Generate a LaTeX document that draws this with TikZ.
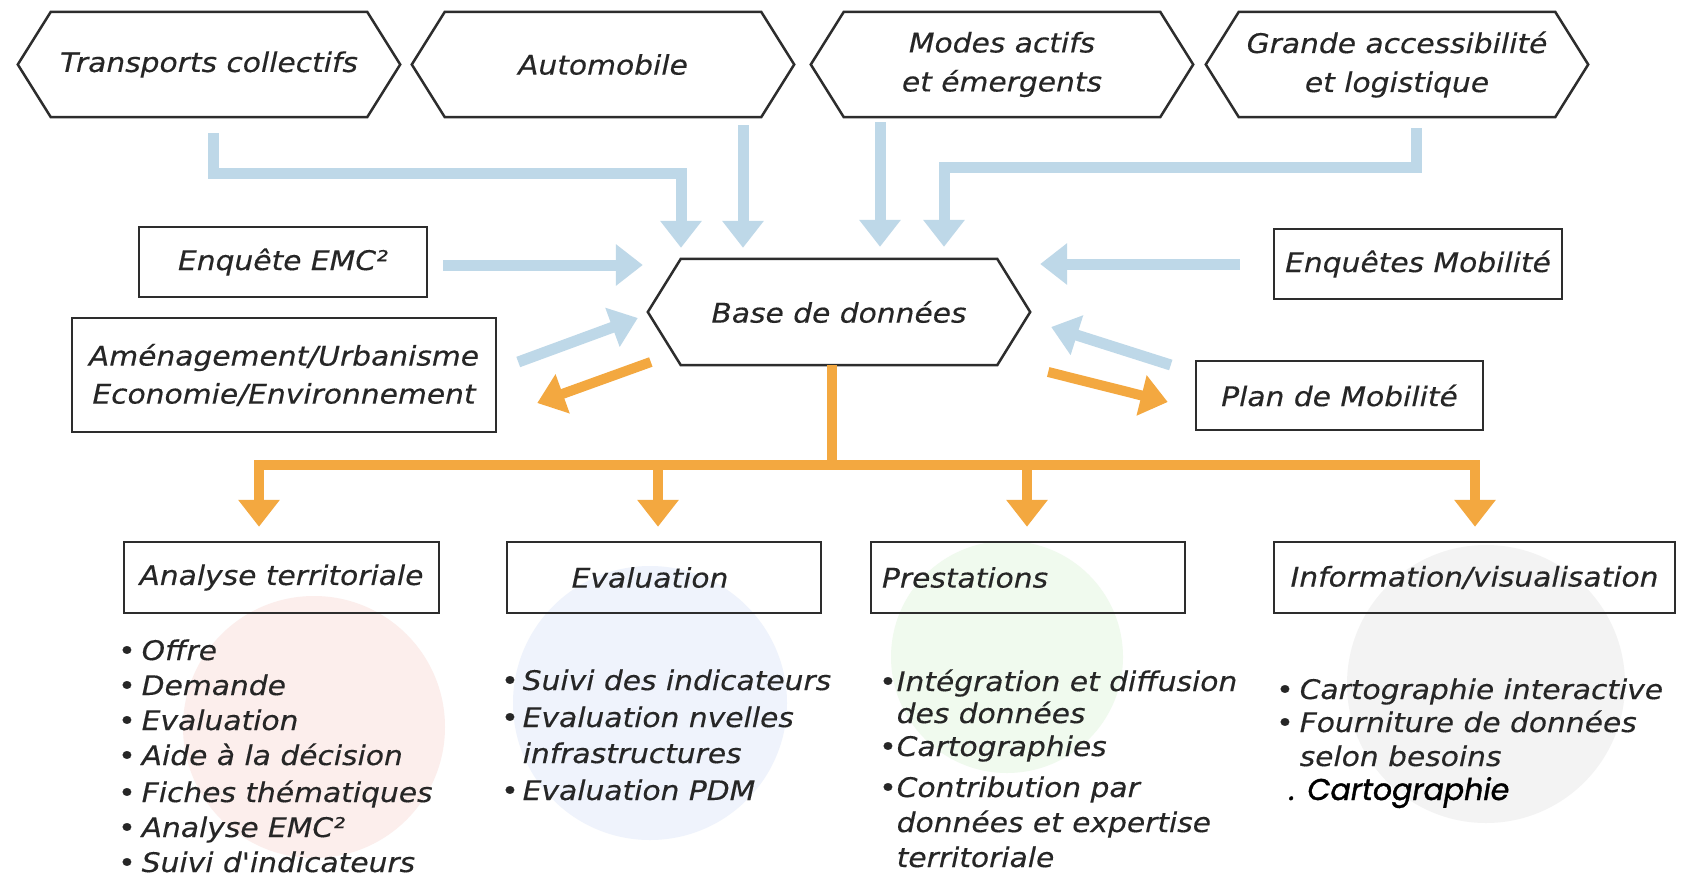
\documentclass[tikz,border=0pt]{standalone}
\usepackage{fontspec}
\usetikzlibrary{arrows.meta,calc}
\setmainfont{DejaVu Sans}
\newfontfamily\dvo{DejaVu Sans Oblique}[FakeStretch=1.1,FakeBold=0.35]
\newfontfamily\popf{Poppins}[FakeBold=1.2]
\definecolor{ink}{RGB}{38,38,38}
\definecolor{boxc}{RGB}{45,45,45}
\definecolor{blueA}{RGB}{190,216,232}
\definecolor{orangeA}{RGB}{243,168,64}
\definecolor{pinkC}{RGB}{252,238,236}
\definecolor{blueC}{RGB}{239,243,252}
\definecolor{greenC}{RGB}{240,250,238}
\definecolor{grayC}{RGB}{243,243,243}
\newcommand\bul[1]{\textbullet\hspace{#1}}
\newcommand\indentitem[1]{\hphantom{\textbullet}\hspace{#1}}
\newcommand\drawhex[1]{\draw[hexline] (#1.north west) -- (#1.north east) -- ([xshift=33pt]#1.east) -- (#1.south east) -- (#1.south west) -- ([xshift=-33pt]#1.west) -- cycle;}
\begin{document}
\begin{tikzpicture}[x=1pt,y=-1pt,
  txt/.style={font=\dvo\fontsize{27}{39}\selectfont, text=ink},
  box/.style={txt, draw=boxc, line width=2.5pt, inner sep=0pt},
  hexin/.style={txt, minimum width=316pt, minimum height=105pt, inner sep=0pt, align=center},
  hexline/.style={draw=boxc, line width=2.5pt, line join=miter},
  bluearr/.style={draw=blueA, line width=11pt, -{Triangle[width=40pt,length=27pt]}},
  orangearr/.style={draw=orangeA, line width=10pt, -{Triangle[width=40pt,length=27pt]}},
  orangeline/.style={draw=orangeA, line width=10pt},
  item/.style={txt, anchor=base west, inner sep=0pt},
  lastitem/.style={anchor=base west, inner sep=0pt, text=black, font=\popf\itshape\fontsize{30}{31}\selectfont}]
\useasboundingbox (0,0) rectangle (1684,881);
\fill[white] (0,0) rectangle (1684,881);
% background discs
\fill[pinkC] (314,727) circle (131pt);
\fill[blueC] (650,703) circle (137pt);
\fill[greenC] (1007,657) circle (116pt);
\fill[grayC] (1486,684) circle (139pt);
% top hexagons
\node[hexin] (tc) at (209,64.5) {Transports collectifs};
\node[hexin] (auto) at (603,64.5) {Automobile};
\node[hexin] (modes) at (1002,64.5) {Modes actifs\\et émergents};
\node[hexin] (grande) at (1397,64.5) {Grande accessibilité\\et logistique};
\node[hexin, minimum height=106pt] (base) at (839,312) {Base de données};
\drawhex{tc}\drawhex{auto}\drawhex{modes}\drawhex{grande}\drawhex{base}
% side boxes
\node[box, minimum width=288pt, minimum height=70pt] (emc) at (283,262) {Enquête EMC²};
\node[box, minimum width=288pt, minimum height=70pt] (mob) at (1418,264) {Enquêtes Mobilité};
\node[box, minimum width=424pt, minimum height=114pt, align=center] (amen) at (284,375) {Aménagement/Urbanisme\\[-1pt]Economie/Environnement};
\node[box, minimum width=287pt, minimum height=69pt] (plan) at (1339.5,395.5) {Plan de Mobilité};
% bottom boxes
\node[box, minimum width=315pt, minimum height=71pt] (ana) at (281.5,577.5) {Analyse territoriale};
\node[box, minimum width=314pt, minimum height=71pt] (ev) at (664,577.5) {Evaluation\hspace*{28pt}};
\node[box, minimum width=314pt, minimum height=71pt, text width=292pt, align=left, inner xsep=11pt] (pr) at (1028,577.5) {Prestations};
\node[box, minimum width=401pt, minimum height=71pt] (iv) at (1474.5,577.5) {Information/visualisation};
% blue arrows into the data base
\draw[bluearr] ($(tc.south)+(4,16)$) |- ($(base.north)+(-158,-85)$) -- ($(base.north)+(-158,-11)$);
\draw[bluearr] ($(auto.south)+(140,8)$) -- ($(base.north)+(-96,-11)$);
\draw[bluearr] ($(modes.south)+(-122,5)$) -- ($(base.north)+(41,-12)$);
\draw[bluearr] ($(grande.south)+(19,11)$) |- ($(base.north)+(105,-91)$) -- ($(base.north)+(105,-12)$);
\draw[bluearr] ($(emc.east)+(15,3)$) -- ($(base.west)+(-38,-47)$);
\draw[bluearr] ($(mob.west)+(-33,0)$) -- ($(base.east)+(43,-48)$);
\draw[bluearr] ($(amen.east)+(21,-13)$) -- ($(base.west)+(-43,6)$);
\draw[bluearr] ($(plan.west)+(-24,-30.5)$) -- ($(base.east)+(54,15)$);
% orange arrows out of the data base
\draw[orangearr] ($(base.west)+(-30,50)$) -- ($(amen.east)+(40,28)$);
\draw[orangearr] ($(base.east)+(51,60)$) -- ($(plan.west)+(-27,6.5)$);
\coordinate (hub) at ($(base.south)+(-7,100)$);
\draw[orangeline] ($(base.south)+(-7,0)$) -- (hub);
\draw[orangearr] (hub) -| ($(ana.north)+(-22.5,-14)$);
\draw[orangearr] (hub) -| ($(ev.north)+(-6,-14)$);
\draw[orangearr] (hub) -| ($(pr.north)+(-1,-14)$);
\draw[orangearr] (hub) -| ($(iv.north)+(0.5,-14)$);
% lists
\foreach \yy/\txt [count=\i] in {660/\bul{6pt}Offre, 695/\bul{6pt}Demande, 730/\bul{6pt}Evaluation, 765/\bul{6pt}Aide à la décision, 802/\bul{6pt}Fiches thématiques, 837/\bul{6pt}Analyse EMC², 872/\bul{6pt}Suivi d'indicateurs}
  \node[item] (la\i) at (118,\yy) {\txt};
\foreach \yy/\txt [count=\i] in {690/\bul{4pt}Suivi des indicateurs, 727/\bul{4pt}Evaluation nvelles, 763/\indentitem{4pt}infrastructures, 800/\bul{4pt}Evaluation PDM}
  \node[item] (le\i) at (501,\yy) {\txt};
\foreach \yy/\txt [count=\i] in {691/\bul{0pt}Intégration et diffusion, 723/\indentitem{0pt}des données, 756/\bul{0pt}Cartographies, 797/\bul{0pt}Contribution par, 832/\indentitem{0pt}données et expertise, 867/\indentitem{0pt}territoriale}
  \node[item] (lp\i) at (879,\yy) {\txt};
\foreach \yy/\txt [count=\i] in {699/\bul{6pt}Cartographie interactive, 732/\bul{6pt}Fourniture de données, 766/\indentitem{6pt}selon besoins}
  \node[item] (li\i) at (1276,\yy) {\txt};
\node[lastitem] (carto) at (1289,800) {. Cartographie};
\end{tikzpicture}
\end{document}
